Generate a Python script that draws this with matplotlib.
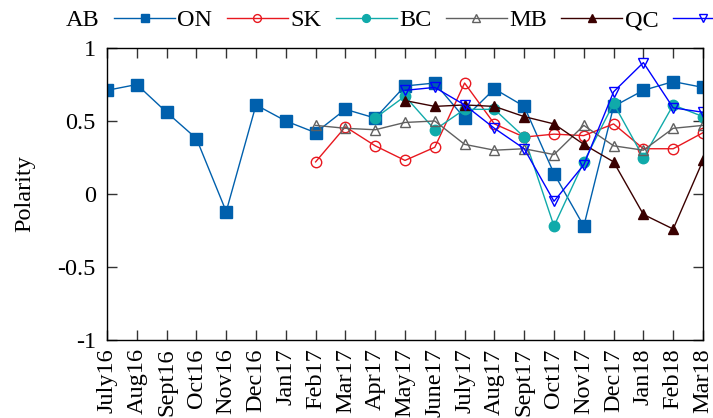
import matplotlib
matplotlib.use("Agg")
import matplotlib.pyplot as plt
import numpy as np

plt.rcParams["font.family"] = ["Liberation Serif", "DejaVu Serif"]
plt.rcParams["axes.unicode_minus"] = False

months = ["July16", "Aug16", "Sept16", "Oct16", "Nov16", "Dec16", "Jan17",
          "Feb17", "Mar17", "Apr17", "May17", "June17", "July17", "Aug17",
          "Sept17", "Oct17", "Nov17", "Dec17", "Jan18", "Feb18", "Mar18"]

nan = np.nan
ab = [0.71, 0.75, 0.56, 0.38, -0.12, 0.61, 0.50, 0.42, 0.58, 0.52, 0.74,
      0.76, 0.52, 0.72, 0.60, 0.14, -0.22, 0.60, 0.71, 0.77, 0.73]
on = [nan] * 7 + [0.22, 0.46, 0.33, 0.23, 0.32, 0.76, 0.48, 0.39, 0.41,
                  0.40, 0.48, 0.31, 0.31, 0.42]
sk = [nan] * 9 + [0.52, 0.67, 0.44, 0.58, 0.58, 0.39, -0.22, 0.22, 0.62,
                  0.25, 0.61, 0.53]
bc = [nan] * 7 + [0.47, 0.45, 0.44, 0.49, 0.50, 0.34, 0.30, 0.31, 0.27,
                  0.47, 0.33, 0.30, 0.45, 0.47]
mb = [nan] * 10 + [0.64, 0.60, 0.61, 0.60, 0.53, 0.48, 0.34, 0.22, -0.14,
                   -0.24, 0.23]
qc = [nan] * 10 + [0.71, 0.73, 0.61, 0.45, 0.31, -0.05, 0.20, 0.70, 0.90,
                   0.59, 0.56]

# label, values, color, marker, filled
series = [
    ("AB", ab, "#0060ad", "s", True),
    ("ON", on, "#e8181f", "o", False),
    ("SK", sk, "#10aaaa", "o", True),
    ("BC", bc, "#606060", "^", False),
    ("MB", mb, "#3a0000", "^", True),
    ("QC", qc, "#0000ff", "v", False),
]
sizes = {"s": 8, "o": 7.5, "^": 7.5, "v": 7.5}

fig = plt.figure(figsize=(7.13, 4.18), dpi=100)
ax = fig.add_axes([107 / 713, 1 - 340 / 418, 596 / 713, 292 / 418])

x = np.arange(len(months))
handles = []
for label, vals, color, marker, filled in series:
    h, = ax.plot(x, vals, color=color, linewidth=1.0, marker=marker,
                 markersize=sizes[marker],
                 markerfacecolor=color if filled else "none",
                 markeredgecolor=color, markeredgewidth=1.0, label=label)
    handles.append(h)

ax.set_xlim(0, len(months) - 1)
ax.set_ylim(-1, 1)
ax.set_xticks(x)
ax.set_xticklabels(months, rotation=90, fontsize=17.5)
ax.set_yticks([-1, -0.5, 0, 0.5, 1])
ax.set_yticklabels(["-1", "-0.5", "0", "0.5", "1"], fontsize=17.5)
ax.tick_params(direction="in", length=7, width=1, color="#333333",
               top=True, right=True)
ax.tick_params(axis="y", pad=8)
ax.tick_params(axis="x", pad=6)
ax.set_ylabel("Polarity", fontsize=17.5, labelpad=16)
for sp in ax.spines.values():
    sp.set_linewidth(1.0)

fig.legend(handles=handles, labels=[s[0] for s in series], ncol=6,
           markerfirst=False, frameon=False, loc="center left",
           bbox_to_anchor=(66 / 713, 1 - 20 / 418), fontsize=17.5,
           handlelength=2.5, handletextpad=0.6, columnspacing=0.1,
           borderpad=0, borderaxespad=0, numpoints=1, markerscale=0.75)

fig.savefig("out.png", dpi=100)
